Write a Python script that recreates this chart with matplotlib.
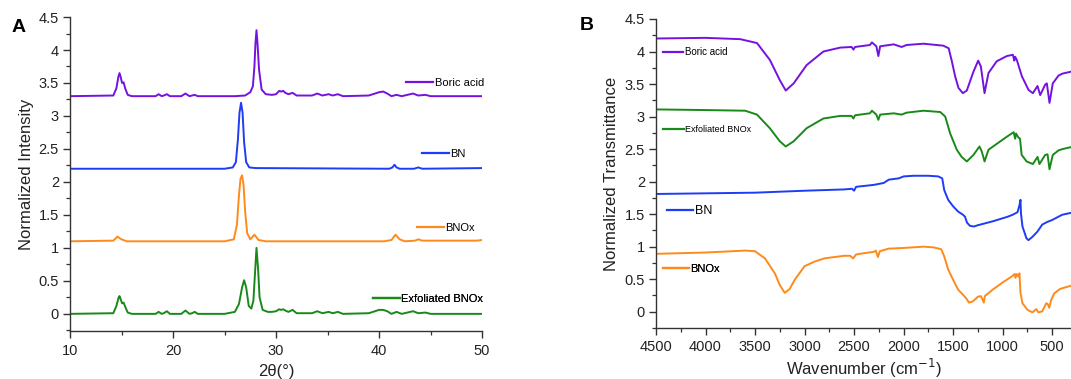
import matplotlib
matplotlib.use("Agg")
import matplotlib.pyplot as plt
from matplotlib.lines import Line2D
from matplotlib.ticker import MultipleLocator

plt.rcParams["font.family"] = ["Liberation Sans", "DejaVu Sans"]

# ---- XRD (panel A): 2theta in degrees, normalized intensity (stacked) ----
xrd_boric_x = [10, 14.2, 14.5, 14.7, 14.8, 14.9, 15.05, 15.2, 15.35, 15.6, 16.0, 18.3, 18.6, 18.9, 19.1,
               19.4, 19.7, 20.8, 21.2, 21.6, 21.85, 22.1, 22.4, 26.0, 27.0, 27.5, 27.75, 27.9, 28.0, 28.1,
               28.2, 28.35, 28.6, 29.0, 29.6, 30.0, 30.3, 30.5, 30.7, 30.9, 31.2, 31.6, 32.0, 33.5, 34.0,
               34.5, 35.1, 35.5, 36.0, 36.5, 39.0, 39.6, 40.0, 40.4, 40.8, 41.2, 41.7, 42.2, 43.3, 43.8,
               44.5, 45.0, 50]
xrd_boric_y = [3.30, 3.31, 3.42, 3.60, 3.65, 3.60, 3.50, 3.51, 3.42, 3.32, 3.30, 3.30, 3.33, 3.30, 3.31,
               3.33, 3.30, 3.30, 3.34, 3.30, 3.31, 3.32, 3.30, 3.30, 3.31, 3.36, 3.45, 3.75, 4.10, 4.30,
               4.10, 3.70, 3.40, 3.33, 3.32, 3.33, 3.38, 3.37, 3.38, 3.35, 3.33, 3.35, 3.31, 3.31, 3.34,
               3.31, 3.33, 3.31, 3.33, 3.30, 3.31, 3.34, 3.36, 3.37, 3.34, 3.30, 3.32, 3.30, 3.34, 3.31,
               3.32, 3.30, 3.30]

xrd_bn_x = [10, 25.0, 25.8, 26.1, 26.3, 26.45, 26.6, 26.75, 26.9, 27.1, 27.4, 28.0, 41.0, 41.3, 41.5,
            41.7, 42.0, 43.4, 43.8, 44.2, 50]
xrd_bn_y = [2.20, 2.20, 2.22, 2.30, 2.65, 3.05, 3.20, 3.05, 2.60, 2.30, 2.22, 2.21, 2.20, 2.22, 2.26,
            2.22, 2.20, 2.20, 2.22, 2.20, 2.21]

xrd_bnox_x = [10, 14.2, 14.6, 15.0, 15.5, 20.0, 25.0, 25.9, 26.2, 26.4, 26.55, 26.7, 26.85, 27.0, 27.2,
              27.5, 27.9, 28.3, 29.0, 40.5, 41.2, 41.6, 42.0, 42.5, 43.5, 43.8, 44.2, 49.5, 50]
xrd_bnox_y = [1.10, 1.11, 1.17, 1.13, 1.10, 1.10, 1.10, 1.13, 1.35, 1.80, 2.05, 2.10, 1.95, 1.55, 1.22,
              1.13, 1.20, 1.12, 1.10, 1.10, 1.12, 1.20, 1.13, 1.10, 1.11, 1.13, 1.11, 1.11, 1.12]

xrd_exf_x = [10, 14.2, 14.5, 14.7, 14.8, 14.9, 15.05, 15.2, 15.35, 15.6, 16.0, 18.3, 18.6, 18.9, 19.1,
             19.4, 19.7, 20.8, 21.2, 21.6, 21.85, 22.1, 22.4, 25.0, 26.0, 26.4, 26.7, 26.9, 27.1, 27.35,
             27.6, 27.8, 27.95, 28.1, 28.25, 28.4, 28.7, 29.2, 29.6, 30.0, 30.3, 30.5, 30.7, 30.9, 31.2,
             31.6, 32.0, 33.5, 34.0, 34.5, 35.1, 35.5, 36.0, 36.5, 39.0, 39.6, 40.0, 40.4, 40.8, 41.2,
             41.7, 42.2, 43.3, 43.8, 44.5, 45.0, 50]
xrd_exf_y = [0.0, 0.01, 0.12, 0.24, 0.27, 0.23, 0.16, 0.17, 0.11, 0.02, 0.0, 0.0, 0.03, 0.0, 0.01,
             0.04, 0.0, 0.0, 0.05, 0.0, 0.01, 0.03, 0.0, 0.0, 0.03, 0.15, 0.40, 0.51, 0.40, 0.12,
             0.08, 0.20, 0.60, 1.00, 0.70, 0.25, 0.06, 0.03, 0.03, 0.04, 0.07, 0.06, 0.07, 0.05, 0.03,
             0.06, 0.01, 0.01, 0.04, 0.01, 0.03, 0.01, 0.03, 0.0, 0.01, 0.04, 0.06, 0.06, 0.04, 0.0,
             0.03, 0.0, 0.04, 0.01, 0.02, 0.0, 0.0]

# ---- FTIR (panel B): wavenumber in cm-1, normalized transmittance (stacked) ----
ftir_boric_x = [4500, 4000, 3650, 3480, 3350, 3250, 3190, 3110, 2980, 2810, 2640, 2525, 2507, 2490, 2340,
                2320, 2275, 2255, 2237, 2100, 2020, 1970, 1800, 1600, 1545, 1513, 1480, 1446, 1402, 1362,
                1295, 1247, 1220, 1183, 1143, 1060, 958, 897, 883, 874, 857, 806, 739, 695, 648,
                621, 571, 554, 527, 494, 436, 397, 310]
ftir_boric_y = [4.20, 4.21, 4.19, 4.13, 3.87, 3.56, 3.40, 3.51, 3.79, 4.00, 4.06, 4.07, 4.03, 4.07, 4.10,
                4.14, 4.08, 3.93, 4.08, 4.11, 4.07, 4.10, 4.12, 4.09, 4.05, 3.85, 3.62, 3.44, 3.36, 3.40,
                3.69, 3.86, 3.77, 3.36, 3.67, 3.85, 3.93, 3.95, 3.86, 3.92, 3.87, 3.62, 3.41, 3.36, 3.47,
                3.33, 3.49, 3.51, 3.21, 3.51, 3.63, 3.66, 3.69]

ftir_exf_x = [4500, 4000, 3600, 3480, 3350, 3250, 3190, 3110, 2980, 2810, 2640, 2525, 2507, 2490, 2340,
              2320, 2275, 2255, 2237, 2100, 2020, 1970, 1800, 1630, 1580, 1530, 1463, 1414, 1362, 1295,
              1234, 1210, 1183, 1143, 1060, 958, 889, 874, 865, 842, 825, 808, 758, 695, 648,
              628, 571, 547, 527, 494, 436, 397, 310]
ftir_exf_y = [3.11, 3.10, 3.09, 3.03, 2.82, 2.62, 2.54, 2.62, 2.82, 2.97, 3.01, 3.01, 2.97, 3.02, 3.05,
              3.09, 3.03, 2.95, 3.03, 3.05, 3.03, 3.06, 3.09, 3.07, 3.00, 2.74, 2.49, 2.38, 2.31, 2.41,
              2.54, 2.46, 2.31, 2.49, 2.58, 2.69, 2.76, 2.66, 2.74, 2.68, 2.66, 2.41, 2.31, 2.27, 2.38,
              2.27, 2.41, 2.42, 2.19, 2.41, 2.48, 2.50, 2.53]

ftir_bn_x = [4500, 4000, 3500, 3000, 2600, 2520, 2500, 2480, 2300, 2200, 2150, 2050, 2000, 1900, 1750,
             1650, 1610, 1590, 1550, 1500, 1450, 1400, 1380, 1360, 1330, 1290, 1250, 1100, 950, 900,
             850, 830, 820, 815, 800, 760, 740, 700, 650, 600, 550, 500, 450, 400, 310]
ftir_bn_y = [1.81, 1.82, 1.83, 1.86, 1.88, 1.89, 1.86, 1.92, 1.95, 1.98, 2.03, 2.05, 2.08, 2.09, 2.09,
             2.08, 2.05, 1.87, 1.72, 1.62, 1.54, 1.49, 1.46, 1.37, 1.32, 1.31, 1.33, 1.39, 1.46, 1.49,
             1.53, 1.64, 1.72, 1.51, 1.31, 1.13, 1.10, 1.15, 1.23, 1.34, 1.38, 1.41, 1.45, 1.49, 1.52]

ftir_bnox_x = [4500, 4000, 3600, 3500, 3400, 3300, 3250, 3200, 3150, 3100, 3000, 2900, 2800, 2600, 2540,
               2510, 2480, 2400, 2300, 2280, 2260, 2240, 2150, 2000, 1800, 1700, 1620, 1590, 1550, 1500,
               1450, 1400, 1370, 1340, 1300, 1250, 1220, 1190, 1180, 1100, 1000, 900, 880, 870, 860,
               840, 830, 820, 800, 750, 700, 660, 640, 600, 560, 545, 530, 510, 480, 420, 400, 310]
ftir_bnox_y = [0.89, 0.91, 0.94, 0.93, 0.82, 0.59, 0.41, 0.29, 0.35, 0.49, 0.70, 0.77, 0.82, 0.86, 0.86,
               0.82, 0.88, 0.90, 0.92, 0.94, 0.84, 0.93, 0.97, 0.98, 1.00, 0.99, 0.96, 0.85, 0.65, 0.49,
               0.34, 0.26, 0.21, 0.14, 0.16, 0.23, 0.24, 0.14, 0.24, 0.34, 0.45, 0.55, 0.58, 0.52, 0.58,
               0.54, 0.59, 0.29, 0.13, 0.03, -0.01, 0.04, -0.01, 0.005, 0.13, 0.12, 0.06, 0.18, 0.28, 0.35,
               0.36, 0.40]

PURPLE = "#7412e0"
BLUE = "#1f3cf5"
ORANGE = "#ff8a1c"
GREEN = "#198a19"
LW = 1.4


def add_key(ax, color, label, x, y, fontsize, handlelength):
    leg = ax.legend(
        handles=[Line2D([], [], color=color, lw=LW + 0.2)],
        labels=[label],
        loc="center left",
        bbox_to_anchor=(x, y),
        bbox_transform=ax.transAxes,
        frameon=False,
        fontsize=fontsize,
        handlelength=handlelength,
        handletextpad=0.15,
        borderpad=0.0,
        borderaxespad=0.0,
    )
    ax.add_artist(leg)


def style_axis(ax):
    for side in ("top", "right"):
        ax.spines[side].set_visible(False)
    for side in ("left", "bottom"):
        ax.spines[side].set_linewidth(1.0)
        ax.spines[side].set_color("#333333")
    ax.tick_params(which="major", direction="out", length=5, width=1.0, labelsize=10.5, colors="#333333")
    ax.tick_params(which="minor", direction="out", length=3, width=0.9, colors="#333333")
    ax.tick_params(axis="y", pad=3)
    ax.tick_params(axis="x", pad=4)
    for lab in ax.get_xticklabels() + ax.get_yticklabels():
        lab.set_color("#222222")


fig = plt.figure(figsize=(10.71, 3.79), dpi=100)

# Panel A
ax_a = fig.add_axes([0.0654, 0.1266, 0.3847, 0.8285])
ax_a.plot(xrd_boric_x, xrd_boric_y, color=PURPLE, lw=LW)
ax_a.plot(xrd_bn_x, xrd_bn_y, color=BLUE, lw=LW)
ax_a.plot(xrd_bnox_x, xrd_bnox_y, color=ORANGE, lw=LW)
ax_a.plot(xrd_exf_x, xrd_exf_y, color=GREEN, lw=LW)
ax_a.set_xlim(10, 50)
ax_a.set_ylim(-0.26, 4.5)
ax_a.xaxis.set_major_locator(MultipleLocator(10))
ax_a.xaxis.set_minor_locator(MultipleLocator(5))
ax_a.yaxis.set_major_locator(MultipleLocator(0.5))
ax_a.yaxis.set_minor_locator(MultipleLocator(0.25))
ax_a.yaxis.set_major_formatter(plt.FuncFormatter(lambda v, p: f"{v:g}"))
style_axis(ax_a)
ax_a.set_ylabel("Normalized Intensity", fontsize=12, color="#222222")
ax_a.yaxis.set_label_coords(-0.088, 0.5)
ax_a.set_xlabel("2θ(°)", fontsize=12, color="#222222")
ax_a.xaxis.set_label_coords(0.5, -0.105)
add_key(ax_a, PURPLE, "Boric acid", 0.816, 0.790, 8, 2.4)
add_key(ax_a, BLUE, "BN", 0.854, 0.564, 8, 2.4)
add_key(ax_a, ORANGE, "BNOx", 0.842, 0.328, 8, 2.4)
add_key(ax_a, GREEN, "Exfoliated BNOx", 0.735, 0.102, 8, 2.4)
fig.text(0.017, 0.928, "A", fontsize=14, fontweight="bold", ha="center", va="center")

# Panel B
ax_b = fig.add_axes([0.6125, 0.1346, 0.3875, 0.8153])
ax_b.plot(ftir_boric_x, ftir_boric_y, color=PURPLE, lw=LW)
ax_b.plot(ftir_exf_x, ftir_exf_y, color=GREEN, lw=LW)
ax_b.plot(ftir_bn_x, ftir_bn_y, color=BLUE, lw=LW)
ax_b.plot(ftir_bnox_x, ftir_bnox_y, color=ORANGE, lw=LW)
ax_b.set_xlim(4500, 310)
ax_b.set_ylim(-0.25, 4.5)
ax_b.xaxis.set_major_locator(MultipleLocator(500))
ax_b.xaxis.set_minor_locator(MultipleLocator(250))
ax_b.yaxis.set_major_locator(MultipleLocator(0.5))
ax_b.yaxis.set_minor_locator(MultipleLocator(0.25))
ax_b.yaxis.set_major_formatter(plt.FuncFormatter(lambda v, p: f"{v:g}"))
style_axis(ax_b)
ax_b.set_ylabel("Normalized Transmittance", fontsize=12, color="#222222")
ax_b.yaxis.set_label_coords(-0.089, 0.5)
ax_b.set_xlabel("Wavenumber (cm$^{-1}$)", fontsize=12, color="#222222")
ax_b.xaxis.set_label_coords(0.5, -0.095)
add_key(ax_b, PURPLE, "Boric acid", 0.017, 0.893, 7, 2.1)
add_key(ax_b, GREEN, "Exfoliated BNOx", 0.017, 0.641, 6.5, 2.3)
add_key(ax_b, BLUE, "BN", 0.026, 0.379, 9, 2.1)
add_key(ax_b, ORANGE, "BNOx", 0.017, 0.191, 8, 2.3)
fig.text(0.548, 0.934, "B", fontsize=14, fontweight="bold", ha="center", va="center")

fig.savefig("out.png", dpi=100)
